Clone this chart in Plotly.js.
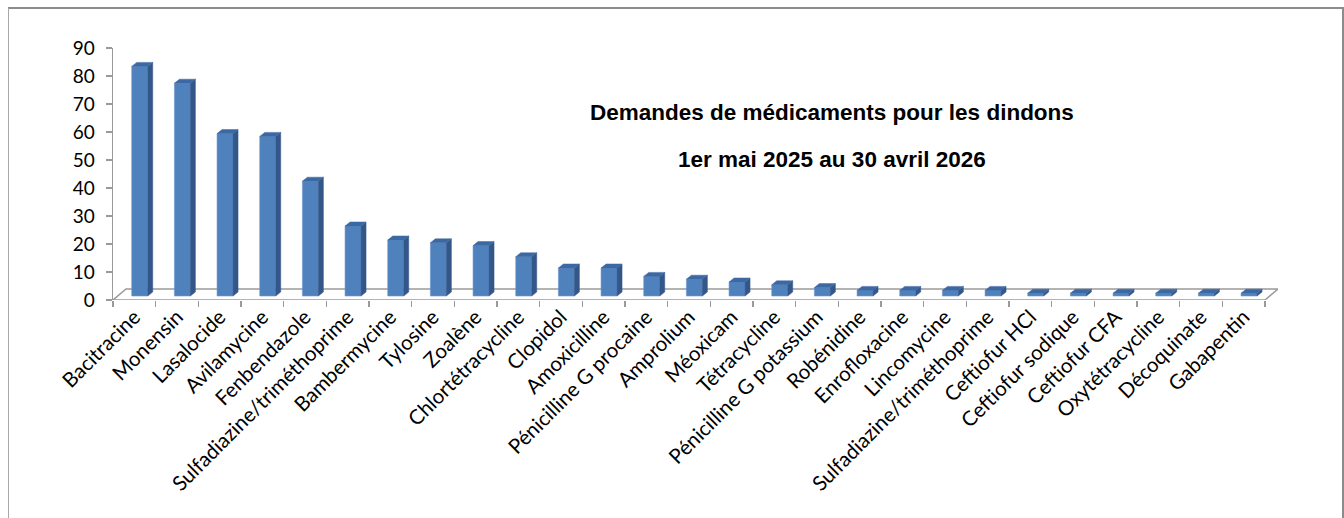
<!DOCTYPE html>
<html>
<head>
<meta charset="utf-8">
<script src="https://cdn.plot.ly/plotly-3.0.1.min.js"></script>
<style>
  html, body { margin: 0; padding: 0; background: #fff; overflow: hidden; }
  #wrap { position: relative; width: 1344px; height: 518px; }
  #chart { position: absolute; left: 0; top: 0; width: 1344px; height: 518px; }
  #frame { position: absolute; left: 8px; top: 7px; width: 1333px; height: 600px;
           border-top: 2px solid #8c8c8c; border-left: 1px solid #a8a8a8; border-right: 2px solid #8c8c8c;
           pointer-events: none; }
</style>
</head>
<body>
<div id="wrap">
  <div id="chart"></div>
  <div id="frame"></div>
</div>
<script>
// ---- data ----
const categories = [
  "Bacitracine", "Monensin", "Lasalocide", "Avilamycine", "Fenbendazole",
  "Sulfadiazine/triméthoprime", "Bambermycine", "Tylosine", "Zoalène", "Chlortétracycline",
  "Clopidol", "Amoxicilline", "Pénicilline G procaine", "Amprolium", "Méoxicam",
  "Tétracycline", "Pénicilline G potassium", "Robénidine", "Enrofloxacine", "Lincomycine",
  "Sulfadiazine/triméthoprime", "Ceftiofur HCl", "Ceftiofur sodique", "Ceftiofur CFA",
  "Oxytétracycline", "Décoquinate", "Gabapentin"
];
const demandes = [82, 76, 58, 57, 41, 25, 20, 19, 18, 14, 10, 10, 7, 6, 5, 4, 3, 2, 2, 2, 2, 1, 1, 1, 1, 1, 1];
const yTicks = [0, 10, 20, 30, 40, 50, 60, 70, 80, 90];
const titleLines = ["Demandes de médicaments pour les dindons", "1er mai 2025 au 30 avril 2026"];

// ---- 3D look parameters (styling) ----
const n = categories.length;
const idx = categories.map((_, i) => i);
const FLOOR_DX = 0.305;   // floor depth in category units
const FLOOR_DY = 3.93;    // floor depth in value units
const BAR_OFF = -0.061, BAR_W = 0.375;
const SIDE_DX = 0.117, TOP_DY = 1.43, BASE = 1.43;

// side and top faces built from the data
const sideX = [], sideY = [], topX = [], topY = [];
idx.forEach(i => {
  const v = demandes[i] + BASE;
  const xl = i + BAR_OFF, xr = xl + BAR_W;
  sideX.push(xr, xr, xr + SIDE_DX, xr + SIDE_DX, xr, null);
  sideY.push(BASE, v, v + TOP_DY, BASE + TOP_DY, BASE, null);
  topX.push(xl, xr, xr + SIDE_DX, xl + SIDE_DX, xl, null);
  topY.push(v, v, v + TOP_DY, v + TOP_DY, v, null);
});

const traces = [
  {
    type: 'bar', x: idx, y: demandes, base: BASE,
    offset: BAR_OFF, width: BAR_W,
    marker: { color: '#4F81BD', line: { color: '#6F97CC', width: 0.6 } },
    hoverinfo: 'x+y', showlegend: false
  },
  {
    type: 'scatter', mode: 'lines', x: sideX, y: sideY, fill: 'toself',
    fillcolor: '#34578A', line: { color: '#34578A', width: 0.5 },
    hoverinfo: 'skip', showlegend: false
  },
  {
    type: 'scatter', mode: 'lines', x: topX, y: topY, fill: 'toself',
    fillcolor: '#3C68A3', line: { color: '#3C68A3', width: 0.5 },
    hoverinfo: 'skip', showlegend: false
  }
];

const grey = '#9a9a9a';
const layout = {
  width: 1344, height: 518,
  margin: { l: 113, r: 66, t: 48, b: 218, pad: 0 },
  paper_bgcolor: '#ffffff', plot_bgcolor: 'rgba(0,0,0,0)',
  barmode: 'overlay',
  showlegend: false,
  xaxis: {
    range: [-0.5, n - 0.5 + FLOOR_DX],
    tickmode: 'array', tickvals: idx, ticktext: categories,
    tickangle: -45, ticks: '', showgrid: false, zeroline: false, showline: false,
    tickfont: { family: 'Lato, "Open Sans", sans-serif', size: 20.5, color: '#000' },
    minor: { tick0: -0.5, dtick: 1, ticks: 'outside', ticklen: 6, tickcolor: grey, tickwidth: 1.5, showgrid: false },
    fixedrange: true
  },
  yaxis: {
    range: [0, 90],
    tickmode: 'array', tickvals: yTicks,
    ticks: 'outside', ticklen: 6, tickcolor: grey, tickwidth: 1.5,
    ticklabelstandoff: 7,
    showline: true, linecolor: grey, linewidth: 1.5,
    showgrid: false, zeroline: false,
    tickfont: { family: 'Lato, "Open Sans", sans-serif', size: 19, color: '#000' },
    fixedrange: true
  },
  shapes: [
    {
      type: 'path', xref: 'x', yref: 'y', layer: 'below',
      path: 'M -0.5,0 L ' + (n - 0.5) + ',0 L ' + (n - 0.5 + FLOOR_DX) + ',' + FLOOR_DY +
            ' L ' + (-0.5 + FLOOR_DX) + ',' + FLOOR_DY + ' Z',
      line: { color: grey, width: 1.5 }, fillcolor: 'rgba(0,0,0,0)'
    }
  ],
  annotations: titleLines.map((t, k) => ({
    text: '<b>' + t + '</b>', xref: 'paper', yref: 'paper',
    x: 0.617, y: k === 0 ? 0.744 : 0.558, xanchor: 'center', yanchor: 'middle',
    showarrow: false,
    font: { family: '"Liberation Sans", Arial, sans-serif', size: 22.5, color: '#000' }
  }))
};

Plotly.newPlot('chart', traces, layout, { displayModeBar: false, staticPlot: true });
</script>
</body>
</html>
